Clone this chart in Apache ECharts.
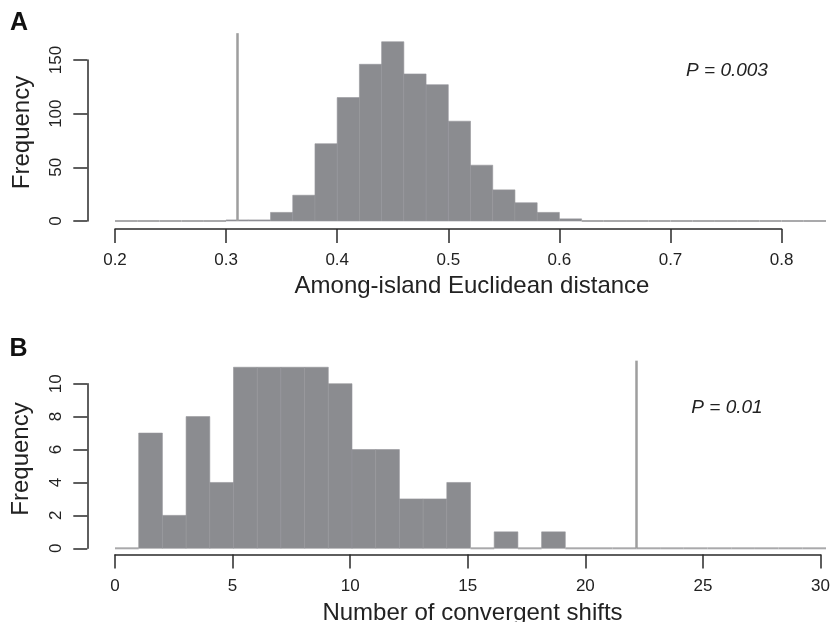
<!DOCTYPE html>
<html>
<head>
<meta charset="utf-8">
<script src="https://cdn.jsdelivr.net/npm/echarts@6/dist/echarts.min.js"></script>
<style>
html,body{margin:0;padding:0;background:#fff;}
#chart{width:833px;height:622px;}
</style>
</head>
<body>
<div id="chart"></div>
<script>
// ---- Data ----
// Panel A: among-island Euclidean distance (bins of width 0.02 starting at 0.20)
const binStartA = 0.2;
const binWidthA = 0.02;
const countsA = [0,0,0,0,0,1,1,8,24,72,115,146,167,137,127,93,52,29,17,8,2,0,0,0,0,0,0,0,0,0,0,0];
const observedA = 0.311;
const ticksA_x = [0.2,0.3,0.4,0.5,0.6,0.7,0.8];
const ticksA_y = [0,50,100,150];
// Panel B: number of convergent shifts (bins of width 1 starting at 0)
const binStartB = 0;
const binWidthB = 1;
const countsB = [0,7,2,8,4,11,11,11,11,10,6,6,3,3,4,0,1,0,1,0,0,0,0,0,0,0,0,0,0,0];
const observedB = 22;
const ticksB_x = [0,5,10,15,20,25,30];
const ticksB_y = [0,2,4,6,8,10];

const labelA = 'A', labelB = 'B';
const pTextA = 'P = 0.003', pTextB = 'P = 0.01';
const xTitleA = 'Among-island Euclidean distance';
const xTitleB = 'Number of convergent shifts';
const yTitle = 'Frequency';

// ---- Build ----
function bins(start, width, counts){
  return counts.map((c,i)=>[start + i*width, start + (i+1)*width, c]);
}
const FONT = "'Liberation Sans', Arial, Helvetica, sans-serif";
const BAR = '#8b8c90';
const AXIS = '#2a2a2a';

function histRender(params, api){
  const x0 = api.value(0), x1 = api.value(1), c = api.value(2);
  const p0 = api.coord([x0, c]);
  const p1 = api.coord([x1, 0]);
  if (c === 0){
    return {type:'line', shape:{x1:p0[0], y1:p1[1], x2:p1[0], y2:p1[1]},
            style:{stroke:'#a9a9ab', lineWidth:2}};
  }
  return {type:'rect', shape:{x:p0[0], y:p0[1], width:p1[0]-p0[0], height:p1[1]-p0[1]},
          style:{fill:BAR, stroke:'#95969a', lineWidth:0.6}};
}

const pxA_y = 161/150;   // layout scale (px per unit) panel A
const yMaxA = 175;
const pxB_y = 16.46;
const yMaxB = 11.4;

const grids = [
  {left:115, right:7, top:221 - yMaxA*pxA_y, height:yMaxA*pxA_y},
  {left:115, width:666.6, top:209, height:20},
  {left:87.3, width:10, top:60, height:161},
  {left:115, right:7, top:548.3 - yMaxB*pxB_y, height:yMaxB*pxB_y},
  {left:115, right:7, top:534.5, height:20},
  {left:87.3, width:10, top:383.7, height:164.6}
];

function xAxisVisible(gi, min, max, interval, fmt){
  return {type:'value', gridIndex:gi, min, max, interval, position:'bottom',
    splitLine:{show:false},
    axisLine:{show:true, lineStyle:{color:AXIS, width:1.5}},
    axisTick:{show:true, length:14, lineStyle:{color:AXIS, width:1.5}},
    axisLabel:{show:true, margin:23, fontSize:17, color:'#222', fontFamily:FONT, formatter:fmt}};
}
function yAxisVisible(gi, min, max, interval){
  return {type:'value', gridIndex:gi, min, max, interval, position:'left',
    splitLine:{show:false},
    axisLine:{show:true, lineStyle:{color:AXIS, width:1.5}},
    axisTick:{show:true, length:14, lineStyle:{color:AXIS, width:1.5}},
    axisLabel:{show:true, margin:22, rotate:90, fontSize:17, color:'#222', fontFamily:FONT}};
}

const option = {
  animation:false,
  backgroundColor:'#fff',
  grid: grids,
  xAxis: [
    {type:'value', gridIndex:0, min:binStartA, max:binStartA + countsA.length*binWidthA, show:false},
    xAxisVisible(1, ticksA_x[0], ticksA_x[ticksA_x.length-1], 0.1, v=>v.toFixed(1)),
    {type:'value', gridIndex:2, min:0, max:1, show:false},
    {type:'value', gridIndex:3, min:binStartB, max:binStartB + countsB.length*binWidthB, show:false},
    xAxisVisible(4, ticksB_x[0], ticksB_x[ticksB_x.length-1], 5, v=>String(v)),
    {type:'value', gridIndex:5, min:0, max:1, show:false}
  ],
  yAxis: [
    {type:'value', gridIndex:0, min:0, max:yMaxA, show:false},
    {type:'value', gridIndex:1, min:0, max:1, show:false},
    yAxisVisible(2, ticksA_y[0], ticksA_y[ticksA_y.length-1], 50),
    {type:'value', gridIndex:3, min:0, max:yMaxB, show:false},
    {type:'value', gridIndex:4, min:0, max:1, show:false},
    yAxisVisible(5, ticksB_y[0], ticksB_y[ticksB_y.length-1], 2)
  ],
  series: [
    {type:'custom', xAxisIndex:0, yAxisIndex:0, renderItem:histRender,
     encode:{x:[0,1], y:2}, data:bins(binStartA, binWidthA, countsA), z:2},
    {type:'line', xAxisIndex:0, yAxisIndex:0, data:[], z:3,
     markLine:{silent:true, symbol:['none','none'], label:{show:false},
       lineStyle:{color:'#9e9e9e', width:2.5, type:'solid'}, data:[{xAxis:observedA}]}},
    {type:'custom', xAxisIndex:3, yAxisIndex:3, renderItem:histRender,
     encode:{x:[0,1], y:2}, data:bins(binStartB, binWidthB, countsB), z:2},
    {type:'line', xAxisIndex:3, yAxisIndex:3, data:[], z:3,
     markLine:{silent:true, symbol:['none','none'], label:{show:false},
       lineStyle:{color:'#9e9e9e', width:2.5, type:'solid'}, data:[{xAxis:observedB}]}}
  ],
  graphic: [
    {type:'text', x:19, y:23, style:{text:labelA, font:"bold 25px "+FONT, fill:'#111', align:'center', verticalAlign:'middle'}},
    {type:'text', x:18.5, y:349, style:{text:labelB, font:"bold 25px "+FONT, fill:'#111', align:'center', verticalAlign:'middle'}},
    {type:'text', x:727, y:71, style:{text:pTextA, font:"italic 19px "+FONT, fill:'#222', align:'center', verticalAlign:'middle'}},
    {type:'text', x:727, y:407.5, style:{text:pTextB, font:"italic 19px "+FONT, fill:'#222', align:'center', verticalAlign:'middle'}},
    {type:'text', x:472, y:286, style:{text:xTitleA, font:"24px "+FONT, fill:'#222', align:'center', verticalAlign:'middle'}},
    {type:'text', x:472.5, y:613, style:{text:xTitleB, font:"24px "+FONT, fill:'#222', align:'center', verticalAlign:'middle'}},
    {type:'text', x:22, y:132.5, rotation:Math.PI/2, style:{text:yTitle, font:"24px "+FONT, fill:'#222', align:'center', verticalAlign:'middle'}},
    {type:'text', x:21.5, y:459, rotation:Math.PI/2, style:{text:yTitle, font:"24px "+FONT, fill:'#222', align:'center', verticalAlign:'middle'}}
  ]
};

const chart = echarts.init(document.getElementById('chart'), null, {renderer:'canvas'});
chart.setOption(option);
</script>
</body>
</html>
